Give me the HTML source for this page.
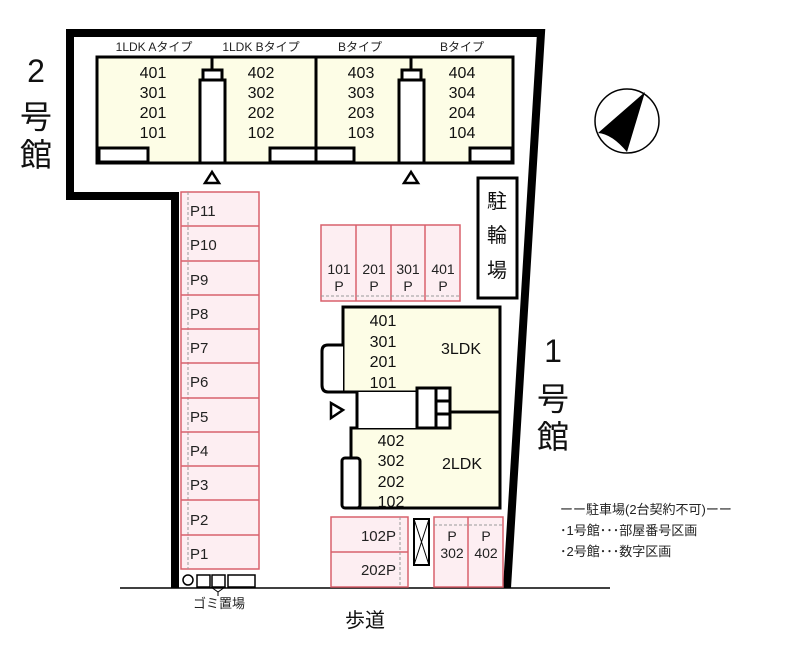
<!DOCTYPE html>
<html><head><meta charset="utf-8"><style>
html,body{margin:0;padding:0;background:#fff;}
svg{display:block;font-family:"Liberation Sans","Noto Sans CJK JP",sans-serif;}
</style></head><body>
<svg width="800" height="656" viewBox="0 0 800 656" xmlns="http://www.w3.org/2000/svg">
<polyline points="175,588 175,196 70,196 70,33 541,33 507,588" fill="none" stroke="#000" stroke-width="8"/>
<line x1="120" y1="588" x2="610" y2="588" stroke="#000" stroke-width="1.5"/>
<rect x="97" y="57" width="416" height="106" fill="#fdfde6" stroke="#000" stroke-width="3"/>
<line x1="316" y1="57" x2="316" y2="163" stroke="#000" stroke-width="3"/>
<g fill="#fff" stroke="#000" stroke-width="3">
<rect x="99" y="148" width="49" height="14"/>
<rect x="270" y="148" width="46" height="14"/>
<rect x="316" y="148" width="38" height="14"/>
<rect x="470" y="148" width="42" height="14"/>
<rect x="200" y="80" width="25" height="83"/>
<rect x="203" y="70" width="19" height="10"/>
<rect x="399" y="80" width="25" height="83"/>
<rect x="402" y="70" width="19" height="10"/>
</g>
<line x1="212" y1="57" x2="212" y2="70" stroke="#000" stroke-width="3"/>
<line x1="411" y1="57" x2="411" y2="70" stroke="#000" stroke-width="3"/>
<polygon points="212,172 205,183 219,183" fill="none" stroke="#000" stroke-width="2.5"/>
<polygon points="411,172 404,183 418,183" fill="none" stroke="#000" stroke-width="2.5"/>
<g font-size="12" fill="#222" text-anchor="middle">
<text x="154" y="51">1LDK Aタイプ</text><text x="261" y="51">1LDK Bタイプ</text>
<text x="360" y="51">Bタイプ</text><text x="462" y="51">Bタイプ</text>
</g>
<g font-size="16" fill="#111" text-anchor="middle">
<text x="153" y="78">401</text><text x="153" y="98">301</text><text x="153" y="118">201</text><text x="153" y="138">101</text>
<text x="261" y="78">402</text><text x="261" y="98">302</text><text x="261" y="118">202</text><text x="261" y="138">102</text>
<text x="361" y="78">403</text><text x="361" y="98">303</text><text x="361" y="118">203</text><text x="361" y="138">103</text>
<text x="462" y="78">404</text><text x="462" y="98">304</text><text x="462" y="118">204</text><text x="462" y="138">104</text>
</g>
<circle cx="627" cy="121" r="32" fill="#fff" stroke="#000" stroke-width="1.5"/>
<path d="M645,92 L598,133 Q612,134 627,152 Z" fill="#000"/>
<g font-size="32" fill="#111" text-anchor="middle">
<text x="36" y="82">2</text><text x="36" y="128">号</text><text x="36" y="166">館</text>
<text x="553" y="362">1</text><text x="553" y="410">号</text><text x="553" y="448">館</text>
</g>
<rect x="478" y="178" width="39" height="120" fill="#fff" stroke="#000" stroke-width="3"/>
<g font-size="20" fill="#111" text-anchor="middle"><text x="497" y="208">駐</text><text x="497" y="242">輪</text><text x="497" y="277">場</text></g>
<rect x="181" y="192" width="78" height="377" fill="#fdeef2" stroke="#d8606c" stroke-width="1.5"/>
<line x1="188" y1="192" x2="188" y2="569" stroke="#999" stroke-dasharray="3,2"/>
<g stroke="#d8606c" stroke-width="1.5">
<line x1="181" y1="226" x2="259" y2="226"/><line x1="181" y1="261" x2="259" y2="261"/>
<line x1="181" y1="295" x2="259" y2="295"/><line x1="181" y1="329" x2="259" y2="329"/>
<line x1="181" y1="363" x2="259" y2="363"/><line x1="181" y1="398" x2="259" y2="398"/>
<line x1="181" y1="432" x2="259" y2="432"/><line x1="181" y1="466" x2="259" y2="466"/>
<line x1="181" y1="500" x2="259" y2="500"/><line x1="181" y1="535" x2="259" y2="535"/>
</g>
<g font-size="15" fill="#222">
<text x="190" y="216">P11</text><text x="190" y="250">P10</text><text x="190" y="285">P9</text>
<text x="190" y="319">P8</text><text x="190" y="353">P7</text><text x="190" y="387">P6</text>
<text x="190" y="422">P5</text><text x="190" y="456">P4</text><text x="190" y="490">P3</text>
<text x="190" y="525">P2</text><text x="190" y="559">P1</text>
</g>
<g fill="#fff" stroke="#000" stroke-width="1.5">
<circle cx="188" cy="580" r="5"/>
<rect x="197" y="575" width="13" height="12"/><rect x="212" y="575" width="13" height="12"/><rect x="228" y="575" width="27" height="12"/>
</g>
<path d="M211,587 L218,592 L225,587 M218,592 L218,596" stroke="#000" fill="none"/>
<text x="219" y="608" font-size="13" fill="#222" text-anchor="middle">ゴミ置場</text>
<text x="365" y="627" font-size="20" fill="#111" text-anchor="middle">歩道</text>
<rect x="321" y="225" width="139" height="76" fill="#fdeef2" stroke="#d8606c" stroke-width="1.5"/>
<g stroke="#d8606c" stroke-width="1.5"><line x1="356" y1="225" x2="356" y2="301"/><line x1="391" y1="225" x2="391" y2="301"/><line x1="425" y1="225" x2="425" y2="301"/></g>
<line x1="321" y1="296" x2="460" y2="296" stroke="#999" stroke-dasharray="3,2"/>
<g font-size="14" fill="#222" text-anchor="middle">
<text x="339" y="274">101</text><text x="339" y="291">P</text>
<text x="374" y="274">201</text><text x="374" y="291">P</text>
<text x="408" y="274">301</text><text x="408" y="291">P</text>
<text x="443" y="274">401</text><text x="443" y="291">P</text>
</g>
<!-- building 1 -->
<path d="M343,307 H500 V508 H351 V428 H420 V392 H343 Z" fill="#fdfde6" stroke="#000" stroke-width="3"/>
<rect x="357" y="392" width="63" height="36" fill="#fff" stroke="none"/>
<line x1="357" y1="392" x2="357" y2="428" stroke="#000" stroke-width="3"/>
<rect x="417" y="388" width="33" height="40" fill="#fff" stroke="#000" stroke-width="3"/>
<rect x="436" y="388" width="14" height="40" fill="#fff" stroke="#000" stroke-width="3"/>
<line x1="436" y1="401" x2="450" y2="401" stroke="#000" stroke-width="3"/><line x1="436" y1="414" x2="450" y2="414" stroke="#000" stroke-width="3"/>
<line x1="450" y1="412" x2="500" y2="412" stroke="#000" stroke-width="3"/>
<path d="M343,345 L328,345 Q322,345 322,351 L322,385 Q322,392 328,392 L343,392" fill="#fff" stroke="#000" stroke-width="3"/>
<rect x="342" y="458" width="18" height="50" rx="3" fill="#fff" stroke="#000" stroke-width="3"/>
<polygon points="331,403 331,418 343,410" fill="none" stroke="#000" stroke-width="2.5"/>
<g font-size="16" fill="#111" text-anchor="middle">
<text x="383" y="326">401</text><text x="383" y="347">301</text><text x="383" y="367">201</text><text x="383" y="388">101</text>
<text x="461" y="354">3LDK</text>
<text x="391" y="446">402</text><text x="391" y="466">302</text><text x="391" y="487">202</text><text x="391" y="507">102</text>
<text x="462" y="469">2LDK</text>
</g>
<rect x="331" y="517" width="77" height="70" fill="#fdeef2" stroke="#d8606c" stroke-width="1.5"/>
<line x1="331" y1="552" x2="408" y2="552" stroke="#d8606c" stroke-width="1.5"/>
<line x1="400" y1="517" x2="400" y2="587" stroke="#999" stroke-dasharray="3,2"/>
<g font-size="15" fill="#222" text-anchor="end"><text x="396" y="541">102P</text><text x="396" y="575">202P</text></g>
<rect x="414" y="519" width="15" height="46" fill="#fff" stroke="#000" stroke-width="2"/>
<path d="M414,519 L429,565 M429,519 L414,565" stroke="#000"/>
<rect x="434" y="517" width="69" height="70" fill="#fdeef2" stroke="#d8606c" stroke-width="1.5"/>
<line x1="468" y1="517" x2="468" y2="587" stroke="#d8606c" stroke-width="1.5"/>
<line x1="434" y1="525" x2="503" y2="525" stroke="#999" stroke-dasharray="3,2"/>
<g font-size="14" fill="#222" text-anchor="middle">
<text x="452" y="541">P</text><text x="452" y="558">302</text>
<text x="486" y="541">P</text><text x="486" y="558">402</text>
</g>
<g font-size="13" fill="#222">
<text x="560" y="514">ーー駐車場(2台契約不可)ーー</text>
<text x="560" y="535">･1号館･･･部屋番号区画</text>
<text x="560" y="556">･2号館･･･数字区画</text>
</g>
</svg>
</body></html>
